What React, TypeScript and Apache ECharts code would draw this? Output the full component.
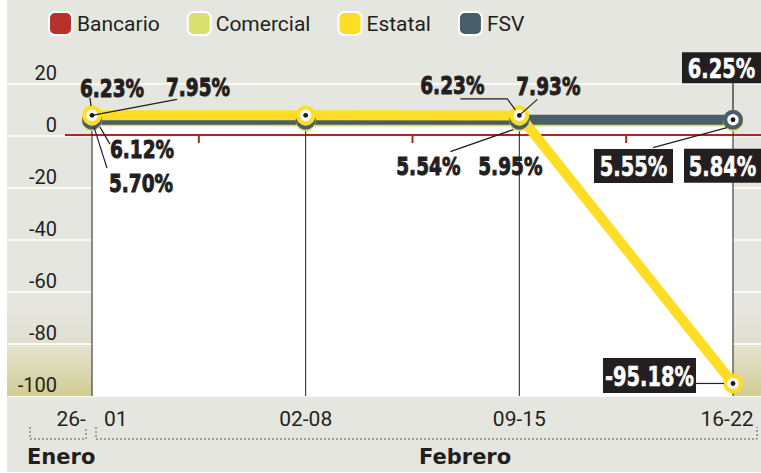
import React, { useEffect, useRef } from "react";
import * as echarts from "echarts";

// ---- data ----
const categories = ["26-01", "02-08", "09-15", "16-22"];
const seriesNames = ["Bancario", "Comercial", "Estatal", "FSV"];
const bancario = [6.12, 6.05, 5.95, 5.84];
const comercial = [5.7, 5.62, 5.54, 5.55];
const estatal = [7.95, 7.94, 7.93, -95.18];
const fsv = [6.23, 6.23, 6.23, 6.25];
const yTicks = [-100, -80, -60, -40, -20, 0, 20];
const months = ["Enero", "Febrero"];

const seriesData: Record<string, number[]> = {
  Bancario: bancario,
  Comercial: comercial,
  Estatal: estatal,
  FSV: fsv,
};

// ---- styles / layout ----
const colors: Record<string, string> = {
  Bancario: "#b8322b",
  Comercial: "#d9e06e",
  Estatal: "#fedd24",
  FSV: "#4a5e6a",
};
const INK = "#231f20";
const X_MIN = -0.39782;
const X_MAX = 3.13105;
const WHITE_TOP = 5; // top of white plot panel (hidden behind lines)

type Ann = {
  s: string;
  i: number;
  dx: number;
  dy: number;
  box?: [number, number];
  line?: [number, number][];
};
const annotations: Ann[] = [
  { s: "FSV", i: 0, dx: 20, dy: -32, line: [[-2, -22], [-1, -14]] },
  { s: "Estatal", i: 0, dx: 106, dy: -29, line: [[0, 0], [85, -16]] },
  { s: "Bancario", i: 0, dx: 50, dy: 28, line: [[8, 7], [18, 24]] },
  { s: "Comercial", i: 0, dx: 49, dy: 61, line: [[2, 6], [15, 47]] },
  { s: "FSV", i: 2, dx: -67, dy: -35, line: [[-59, -21], [-12, -21], [-4, -10]] },
  { s: "Estatal", i: 2, dx: 29, dy: -30, line: [[18, -16], [0, 0]] },
  { s: "Comercial", i: 2, dx: -91, dy: 44, line: [[-69, 30], [-6, 8]] },
  { s: "Bancario", i: 2, dx: -9, dy: 45 },
  { s: "FSV", i: 3, dx: -11.5, dy: -52, box: [79, 31], line: [[0, -37], [0, -10]] },
  { s: "Comercial", i: 3, dx: -99.5, dy: 44.4, box: [79, 34], line: [[-80, 26], [-6, 6]] },
  { s: "Bancario", i: 3, dx: -10.5, dy: 45, box: [77, 34] },
  { s: "Estatal", i: 3, dx: -83.5, dy: -8, box: [93, 35], line: [[-37, 0], [-9, 0]] },
];

function markerSymbol(color: string) {
  const svg =
    `<svg xmlns="http://www.w3.org/2000/svg" width="40" height="40" viewBox="0 0 40 40">` +
    `<circle cx="20" cy="20" r="15" fill="#ffffff" stroke="${color}" stroke-width="8"/>` +
    `<circle cx="20" cy="20" r="4.6" fill="#1a1a1a"/></svg>`;
  return "image://data:image/svg+xml;charset=utf-8," + encodeURIComponent(svg);
}

const fmt = (v: number) => `${v.toFixed(2)}%`;

export default function App() {
  const ref = useRef<HTMLDivElement>(null);

  useEffect(() => {
    document.body.style.margin = "0";
    if (!ref.current) return;
    const chart = echarts.init(ref.current, null, { renderer: "svg" });

    const drawOrder = ["Bancario", "Comercial", "FSV", "Estatal"];
    const lineSeries = drawOrder.map((name) => ({
      name,
      type: "line",
      data: seriesData[name].map((v, i) => [i, v]),
      symbol: markerSymbol(colors[name]),
      symbolSize: 21,
      showSymbol: true,
      itemStyle: { color: colors[name] },
      lineStyle: { color: colors[name], width: 10, cap: "round", join: "round" },
      z: 3,
    }));

    const tops = categories.map((_, i) =>
      Math.max(...seriesNames.map((n) => seriesData[n][i]))
    );

    const bgSeries = {
      type: "custom",
      z: 2,
      clip: false,
      silent: true,
      data: categories.map((_, i) => [i, tops[i]]),
      renderItem: (params: any, api: any) => {
        const cs = params.coordSys;
        const i = api.value(0);
        const children: any[] = [];
        if (params.dataIndex === 0) {
          const y60 = api.coord([0, -60])[1];
          const y80 = api.coord([0, -80])[1];
          const y100 = api.coord([0, -100])[1];
          children.push({
            type: "rect",
            shape: { x: cs.x, y: y60 + 1, width: cs.width, height: y80 - y60 - 2 },
            style: {
              fill: new echarts.graphic.LinearGradient(0, 0, 0, 1, [
                { offset: 0, color: "rgba(230,230,224,0)" },
                { offset: 1, color: "#dfdecf" },
              ]),
            },
          });
          children.push({
            type: "rect",
            shape: { x: cs.x, y: y80 + 1, width: cs.width, height: y100 - y80 - 1 },
            style: {
              fill: new echarts.graphic.LinearGradient(0, 0, 0, 1, [
                { offset: 0, color: "#e4e3d0" },
                { offset: 1, color: "#d1cd94" },
              ]),
            },
          });
          const tl = api.coord([0, WHITE_TOP]);
          const br = api.coord([categories.length - 1, -100]);
          children.push({
            type: "rect",
            shape: { x: tl[0], y: tl[1], width: br[0] - tl[0], height: br[1] - tl[1] },
            style: { fill: "#ffffff" },
          });
          const z0 = api.coord([0, 0])[1] - 1;
          children.push({
            type: "line",
            shape: { x1: cs.x + 58, y1: z0, x2: cs.x + cs.width, y2: z0 },
            style: { stroke: "#a9291f", lineWidth: 2 },
          });
          for (let k = 0; k < categories.length - 1; k++) {
            const p = api.coord([k + 0.5, 0]);
            children.push({
              type: "line",
              shape: { x1: p[0], y1: z0, x2: p[0], y2: z0 + 8 },
              style: { stroke: "#a9291f", lineWidth: 2 },
            });
          }
        }
        const top = api.coord([i, api.value(1)]);
        const bot = api.coord([i, -100]);
        children.push({
          type: "line",
          shape: { x1: top[0], y1: top[1], x2: bot[0], y2: bot[1] },
          style: { stroke: INK, lineWidth: 1 },
        });
        return { type: "group", children };
      },
    };

    const annSeries = {
      type: "custom",
      z: 5,
      clip: false,
      silent: true,
      data: annotations.map((a) => [a.i, seriesData[a.s][a.i]]),
      renderItem: (params: any, api: any) => {
        const a = annotations[params.dataIndex];
        const v = api.value(1);
        const p = api.coord([api.value(0), v]);
        const children: any[] = [];
        if (a.line) {
          children.push({
            type: "polyline",
            shape: { points: a.line.map(([dx, dy]) => [p[0] + dx, p[1] + dy]) },
            style: { stroke: INK, lineWidth: 1.2, fill: "none" },
          });
        }
        const cx = p[0] + a.dx;
        const cy = p[1] + a.dy;
        if (a.box) {
          children.push({
            type: "rect",
            shape: { x: cx - a.box[0] / 2, y: cy - a.box[1] / 2, width: a.box[0], height: a.box[1] },
            style: { fill: INK },
          });
        }
        children.push({
          type: "text",
          x: cx,
          y: cy + 1,
          scaleX: a.box ? 0.72 : 0.74,
          style: {
            text: fmt(v),
            x: 0,
            y: 0,
            align: "center",
            verticalAlign: "middle",
            fill: a.box ? "#ffffff" : INK,
            stroke: a.box ? "#ffffff" : INK,
            lineWidth: a.box ? 0.6 : 1,
            fontFamily: "DejaVu Sans",
            fontWeight: "bold",
            fontSize: a.box ? 27 : 25,
          },
        });
        return { type: "group", children };
      },
    };

    const labelStyle = { fontFamily: "Roboto", fontSize: 21, color: INK };
    const yCommon = {
      type: "value",
      position: "left",
      offset: 0,
      min: yTicks[0],
      max: yTicks[yTicks.length - 1],
      interval: 20,
      axisLine: { show: false },
      axisTick: { show: false },
    };

    const option: any = {
      animation: false,
      grid: { left: 7, right: 0, top: 84, bottom: 77 },
      legend: {
        data: seriesNames,
        left: 48,
        top: 11,
        padding: 0,
        icon: "roundRect",
        itemWidth: 23,
        itemHeight: 23,
        itemGap: 27,
        itemStyle: { borderColor: "#ffffff", borderWidth: 2 },
        textStyle: { fontFamily: "Roboto", fontSize: 21, color: INK },
        selectedMode: false,
      },
      xAxis: {
        type: "value",
        min: X_MIN,
        max: X_MAX,
        axisLine: { show: false, onZero: false },
        axisTick: { show: false },
        splitLine: { show: false },
        axisLabel: {
          customValues: categories.map((_, i) => i),
          margin: 12,
          ...labelStyle,
          formatter: (val: number) => {
            const i = Math.round(val);
            const c = categories[i] || "";
            if (i === 0) {
              const [d1, d2] = c.split("-");
              return `{a|${d1}-}{b|${d2}}`;
            }
            if (i === categories.length - 1) return `{c|${c}}`;
            return c;
          },
          rich: {
            a: { ...labelStyle },
            b: { ...labelStyle, padding: [0, 0, 0, 18] },
            c: { ...labelStyle, padding: [0, 12, 0, 0] },
          },
        },
      },
      yAxis: [
        {
          ...yCommon,
          z: 0,
          axisLabel: { show: false },
          splitLine: { lineStyle: { color: "#ffffff", width: 1.5 } },
        },
        {
          ...yCommon,
          z: 10,
          splitLine: { show: false },
          axisLabel: {
            inside: true,
            margin: 50,
            align: "right",
            verticalAlign: "bottom",
            padding: [0, 0, 1, 0],
            fontFamily: "Roboto",
            fontSize: 20,
            color: INK,
          },
        },
      ],
      graphic: [
        {
          type: "polyline",
          shape: { points: [[30, 427], [30, 439], [86, 439], [86, 427]] },
          style: { stroke: "#555", lineWidth: 1, lineDash: [2, 2], fill: "none" },
        },
        {
          type: "polyline",
          shape: { points: [[96, 427], [96, 439], [757, 439], [757, 427]] },
          style: { stroke: "#555", lineWidth: 1, lineDash: [2, 2], fill: "none" },
        },
        {
          type: "text",
          left: 27,
          top: 446,
          style: { text: months[0], fontFamily: "DejaVu Sans", fontWeight: "bold", fontSize: 21, fill: INK },
        },
        {
          type: "text",
          left: 419,
          top: 446,
          style: { text: months[1], fontFamily: "DejaVu Sans", fontWeight: "bold", fontSize: 21, fill: INK },
        },
      ],
      series: [bgSeries, ...lineSeries, annSeries],
    };

    chart.setOption(option);
    return () => chart.dispose();
  }, []);

  return (
    <div style={{ position: "relative", width: 761, height: 473, background: "#ffffff" }}>
      <div
        style={{ position: "absolute", left: 7, top: 0, width: 754, height: 472, background: "#e6e6e0" }}
      />
      <div ref={ref} style={{ position: "absolute", left: 0, top: 0, width: 761, height: 473 }} />
    </div>
  );
}
